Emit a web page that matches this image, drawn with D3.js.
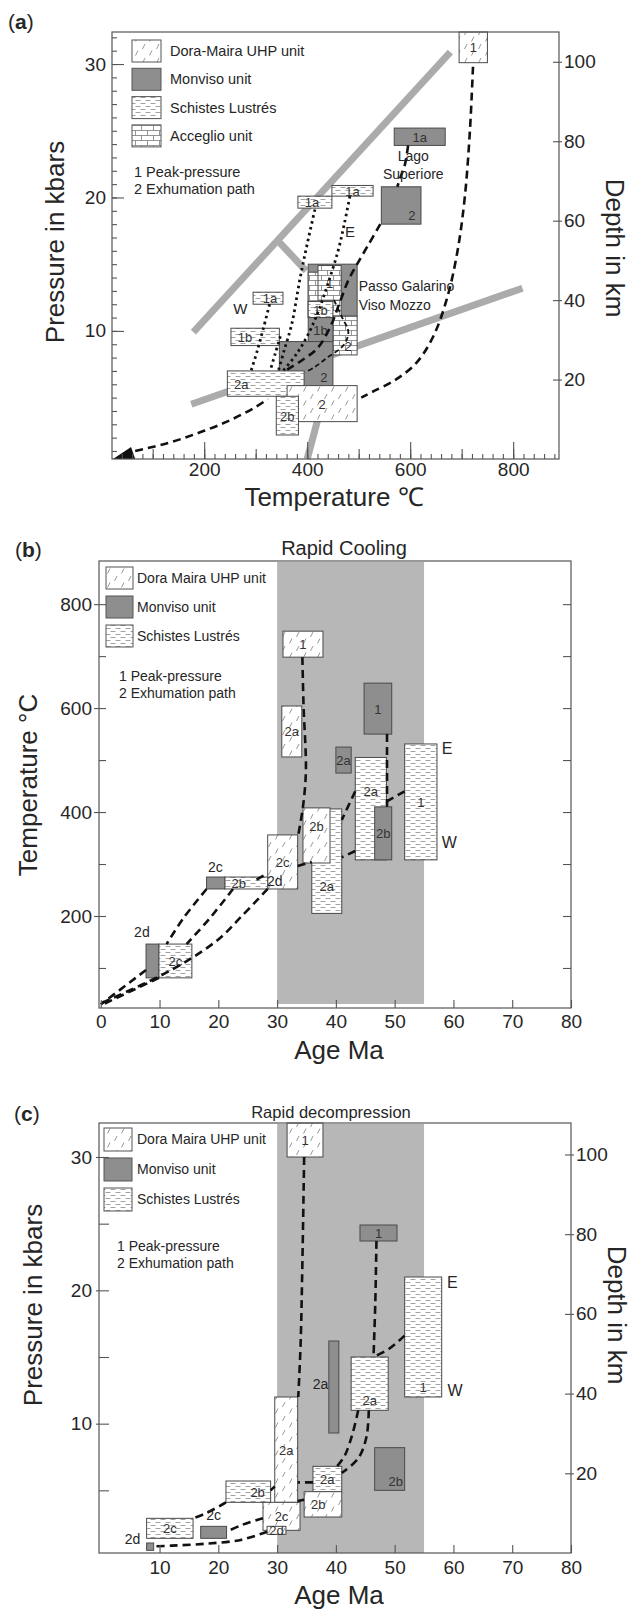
<!DOCTYPE html>
<html>
<head>
<meta charset="utf-8">
<script src="https://cdn.jsdelivr.net/npm/d3@7"></script>
<style>
  body { margin: 0; background: #fff; }
  svg { font-family: "Liberation Sans", Arial, Helvetica, sans-serif; }
</style>
</head>
<body>
<svg id="fig" width="637" height="1610"></svg>
<script>
// ---------- data ----------
const legendA = ['Dora-Maira UHP unit', 'Monviso unit', 'Schistes Lustrés', 'Acceglio unit'];
const legendBC = ['Dora Maira UHP unit', 'Monviso unit', 'Schistes Lustrés'];
const legendUnits = ['dora', 'monviso', 'schistes', 'acceglio'];
const notes = ['1 Peak-pressure', '2 Exhumation path'];

const tempTicksA = [200, 400, 600, 800];
const pressTicks = [10, 20, 30];
const depthTicks = [20, 40, 60, 80, 100];
const tempTicksB = [200, 400, 600, 800];
const ageTicksB = [0, 10, 20, 30, 40, 50, 60, 70, 80];
const ageTicksC = [10, 20, 30, 40, 50, 60, 70, 80];
const fastPeriod = [30, 55];   // Ma, grey band

// panel (a): temperature (°C) / pressure (kbar) boxes
const boxesA = [
  { u: 'monviso',  t: [402, 497], p: [11.1, 15.0], l: '' },
  { u: 'acceglio', t: [402, 466], p: [11.0, 14.4], l: '' },
  { u: 'schistes', t: [402, 450], p: [11.0, 12.2], l: '1b', at: 'c' },
  { u: 'acceglio', t: [421, 466], p: [12.3, 14.9], l: '1',  at: 'c' },
  { u: 'acceglio', t: [450, 497], p: [8.2, 11.1],  l: '2',  at: 'br' },
  { u: 'monviso',  t: [402, 450], p: [9.2, 11.0],  l: '1b', at: 'c' },
  { u: 'monviso',  t: [346, 450], p: [5.9, 9.2],   l: '2',  at: 'br' },
  { u: 'schistes', t: [245, 394], p: [5.1, 7.0],   l: '2a', at: 'l' },
  { u: 'dora',     t: [361, 497], p: [3.2, 5.9],   l: '2',  at: 'c' },
  { u: 'schistes', t: [340, 383], p: [2.2, 5.1],   l: '2b', at: 'c' },
  { u: 'schistes', t: [252, 346], p: [8.9, 10.2],  l: '1b', at: 'l' },
  { u: 'schistes', t: [295, 353], p: [12.0, 12.9], l: '1a', at: 'r' },
  { u: 'schistes', t: [382, 448], p: [19.2, 20.1], l: '1a', at: 'l' },
  { u: 'schistes', t: [448, 528], p: [20.1, 20.9], l: '1a', at: 'c' },
  { u: 'monviso',  t: [544, 621], p: [18.0, 20.8], l: '2',  at: 'br' },
  { u: 'monviso',  t: [569, 668], p: [23.9, 25.2], l: '1a', at: 'c' },
  { u: 'dora',     t: [695, 750], p: [30.1, 32.4], l: '1',  at: 'c' }
];
// reaction lines (T, P)
const reactionsA = [
  [[179, 9.9], [678, 30.9]],
  [[342, 16.8], [398, 14.5]],
  [[175, 4.5], [818, 13.2]],
  [[423, 3.7], [400, 0.4]]
];
const dashedA = [
  [[722, 29.8], [716, 25], [706, 20], [692, 16], [672, 12.5], [645, 9.6], [612, 7.6], [570, 6.3], [530, 5.5], [505, 5.0]],
  [[66, 1.0], [130, 1.6], [192, 2.4], [250, 3.3], [300, 4.3], [324, 4.9]],
  [[542, 18.0], [518, 16.4], [497, 15.0], [480, 13.8], [462, 12.0], [445, 10.3], [420, 8.7], [390, 7.8], [361, 7.1]],
  [[596, 23.9], [590, 22.5], [583, 21.7], [575, 20.8]]
];
const curveA = [[452, 12.3], [468, 11.0], [480, 9.9], [470, 8.9], [439, 8.0], [415, 7.3], [396, 6.9]];
const dottedA = [
  [[327, 12.0], [315, 10.2], [303, 8.5], [291, 7.0]],
  [[415, 19.1], [400, 16.5], [386, 13.9], [370, 10.5], [355, 8.5], [344, 7.0]],
  [[483, 20.1], [472, 18], [460, 16], [440, 13.5], [420, 11.3], [400, 9.6], [378, 8.2], [353, 7.0]],
  [[348, 9.6], [338, 8.3], [328, 7.0]]
];
const triangleA = [[23, 0.4], [66, 0.4], [58, 1.3]];
const textA = [
  ['W', 270, 11.3], ['E', 483, 17.0],
  ['Lago', 606, 22.7], ['Superiore', 606, 21.4],
  ['Passo Galarino', 500, 13.0], ['Viso Mozzo', 500, 11.6]
];

// panel (b): age (Ma) / temperature (°C)
const boxesB = [
  { u: 'dora',     a: [31.0, 37.8], t: [698, 748], l: '1',  at: 'c' },
  { u: 'dora',     a: [30.8, 34.2], t: [506, 604], l: '2a', at: 'c' },
  { u: 'monviso',  a: [44.8, 49.5], t: [550, 648], l: '1',  at: 'c' },
  { u: 'monviso',  a: [40.0, 42.6], t: [475, 525], l: '2a', at: 'c' },
  { u: 'schistes', a: [43.3, 48.6], t: [308, 505], l: '2a', at: 'u' },
  { u: 'monviso',  a: [46.6, 49.5], t: [308, 410], l: '2b', at: 'c' },
  { u: 'schistes', a: [51.7, 57.2], t: [308, 531], l: '1',  at: 'c' },
  { u: 'schistes', a: [35.9, 41.0], t: [205, 406], l: '2a', at: 'd' },
  { u: 'dora',     a: [34.4, 39.0], t: [302, 408], l: '2b', at: 'u' },
  { u: 'dora',     a: [28.4, 33.5], t: [252, 356], l: '2c', at: 'c' },
  { u: 'schistes', a: [21.1, 28.4], t: [252, 275], l: '2b', at: 'l' },
  { u: 'monviso',  a: [18.0, 21.1], t: [252, 275], l: '' },
  { u: 'monviso',  a: [7.7, 9.9],   t: [81, 146],  l: '' },
  { u: 'schistes', a: [9.9, 15.5],  t: [81, 146],  l: '2c', at: 'c' }
];
const pathsB = [
  [[34.3, 698], [34.5, 604], [34.9, 480], [34.4, 410], [33.6, 356]],
  [[28.4, 252], [24, 200], [19.9, 154], [12, 96], [0, 32]],
  [[22.5, 252], [18.5, 195], [14.6, 146]],
  [[18.0, 252], [14, 195], [11.2, 146]],
  [[7.7, 96], [0, 30]],
  [[9.9, 81], [0, 28]],
  [[26.5, 270], [28.4, 282]],
  [[33.5, 296], [35.9, 304]],
  [[43.3, 440], [41.0, 385]],
  [[43.3, 325], [41.0, 313]],
  [[48.7, 550], [48.7, 410]],
  [[51.7, 440], [48.6, 420]]
];
const textB = [['2c', 19.5, 285], ['2d', 7.0, 160], ['2d', 29.6, 258], ['E', 58.0, 511], ['W', 58.0, 330]];

// panel (c): age (Ma) / pressure (kbar)
const boxesC = [
  { u: 'dora',     a: [31.7, 37.8], p: [30.0, 32.55], l: '1',  at: 'c' },
  { u: 'monviso',  a: [44.1, 50.4], p: [23.7, 24.9],  l: '1',  at: 'c' },
  { u: 'schistes', a: [51.7, 58.0], p: [12.0, 21.0],  l: '1',  at: 'b' },
  { u: 'schistes', a: [42.6, 48.9], p: [11.0, 15.0],  l: '2a', at: 'b' },
  { u: 'monviso',  a: [38.8, 40.5], p: [9.3, 16.2],   l: '' },
  { u: 'monviso',  a: [46.6, 51.7], p: [5.0, 8.2],    l: '2b', at: 'br' },
  { u: 'dora',     a: [29.6, 33.5], p: [4.1, 12.0],   l: '2a', at: 'c' },
  { u: 'schistes', a: [36.1, 41.0], p: [4.9, 6.8],    l: '2a', at: 'c' },
  { u: 'dora',     a: [34.6, 41.0], p: [3.0, 4.9],    l: '2b', at: 'l' },
  { u: 'schistes', a: [21.3, 28.9], p: [4.1, 5.7],    l: '2b', at: 'r' },
  { u: 'dora',     a: [27.6, 33.9], p: [2.0, 4.1],    l: '2c', at: 'c' },
  { u: 'dora',     a: [28.3, 31.5], p: [1.7, 2.3],    l: '2d', at: 'c' },
  { u: 'monviso',  a: [17.0, 21.4], p: [1.4, 2.3],    l: '' },
  { u: 'schistes', a: [7.8, 15.7],  p: [1.4, 2.9],    l: '2c', at: 'c' },
  { u: 'monviso',  a: [7.8, 9.0],   p: [0.5, 1.05],   l: '' }
];
const pathsC = [
  [[34.6, 30.0], [34.3, 22], [34.0, 16], [33.6, 12.0]],
  [[46.9, 23.7], [46.7, 19], [46.4, 15.0]],
  [[51.7, 16.6], [49, 15.6], [46.4, 15.0]],
  [[43.8, 11.0], [42.8, 9.2], [41.5, 7.6], [40.2, 6.8]],
  [[45.6, 11.0], [45.2, 9.0], [43.8, 7.4], [41.0, 6.3]],
  [[36.1, 5.6], [33.5, 5.6]],
  [[34.6, 4.3], [33.5, 4.2]],
  [[28.9, 5.0], [29.6, 5.3]],
  [[21.3, 4.1], [18, 3.3], [15.7, 2.9]],
  [[27.6, 2.9], [24, 2.4], [21.4, 1.9]],
  [[28.3, 1.9], [24, 1.3], [18, 1.0], [12, 0.85], [9.0, 0.8]]
];
const textC = [['2a', 37.4, 12.6], ['2c', 19.2, 2.8], ['2d', 5.4, 1.0], ['E', 58.9, 20.2], ['W', 59.0, 12.1]];

// ---------- drawing ----------
const svg = d3.select('#fig');
const defs = svg.append('defs');

// fill patterns
const pDora = defs.append('pattern').attr('id', 'p-dora').attr('patternUnits', 'userSpaceOnUse')
  .attr('width', 14).attr('height', 14);
pDora.append('rect').attr('width', 14).attr('height', 14).attr('fill', '#fff');
pDora.append('path').attr('d', 'M2.5,7 L5,2 M9.5,13.5 L12,8.5')
  .attr('stroke', '#8c8c8c').attr('stroke-width', 0.9);

const pSch = defs.append('pattern').attr('id', 'p-sch').attr('patternUnits', 'userSpaceOnUse')
  .attr('width', 10).attr('height', 6);
pSch.append('rect').attr('width', 10).attr('height', 6).attr('fill', '#fff');
pSch.append('path').attr('d', 'M0.5,1.5 H5.5 M5.5,4.5 H10.5 M-4.5,4.5 H0.5')
  .attr('stroke', '#8a8a8a').attr('stroke-width', 0.8);

const pAcc = defs.append('pattern').attr('id', 'p-acc').attr('patternUnits', 'userSpaceOnUse')
  .attr('width', 12).attr('height', 10);
pAcc.append('rect').attr('width', 12).attr('height', 10).attr('fill', '#fff');
pAcc.append('path').attr('d', 'M0,0.5 H12 M0,5.5 H12 M3.5,0.5 V5.5 M9.5,5.5 V10.5')
  .attr('stroke', '#7a7a7a').attr('stroke-width', 0.8);

const fills = { dora: 'url(#p-dora)', monviso: '#8e8e8e', schistes: 'url(#p-sch)', acceglio: 'url(#p-acc)' };
const ink = '#262626';

function text(g, x, y, s, size, anchor) {
  return g.append('text').attr('x', x).attr('y', y).attr('font-size', size)
    .attr('text-anchor', anchor || 'start').attr('fill', ink).text(s);
}

function styleAxis(sel, size) {
  sel.attr('font-family', null).attr('font-size', null);
  sel.select('.domain').remove();
  sel.selectAll('line').attr('stroke', '#555').attr('stroke-width', 1.1);
  sel.selectAll('text').attr('font-size', size || 19).attr('fill', ink);
}

function drawBoxes(g, boxes, x, y, xKey, yKey) {
  boxes.forEach(b => {
    const x0 = x(b[xKey][0]), x1 = x(b[xKey][1]);
    const y0 = y(b[yKey][1]), y1 = y(b[yKey][0]);
    g.append('rect').attr('x', x0).attr('y', y0)
      .attr('width', x1 - x0).attr('height', y1 - y0)
      .attr('fill', fills[b.u]).attr('stroke', '#4a4a4a').attr('stroke-width', 1);
    if (!b.l) return;
    let lx = (x0 + x1) / 2, ly = (y0 + y1) / 2 + 5;
    if (b.at === 'l') lx = x0 + 14;
    if (b.at === 'r') lx = x1 - 13;
    if (b.at === 'br') { lx = x1 - 9; ly = y1 - 4; }
    if (b.at === 'b') ly = y1 - 5;
    if (b.at === 'u') ly = y0 + (y1 - y0) * 0.33 + 5;
    if (b.at === 'd') ly = y0 + (y1 - y0) * 0.74 + 5;
    text(g, lx, ly, b.l, 13, 'middle').attr('fill', '#333');
  });
}

function drawLines(g, list, x, y, dash, width, curve) {
  const line = d3.line().x(d => x(d[0])).y(d => y(d[1]))
    .curve(curve || d3.curveCatmullRom.alpha(0.5));
  list.forEach(pts => {
    g.append('path').attr('d', line(pts)).attr('fill', 'none')
      .attr('stroke', '#111').attr('stroke-width', width).attr('stroke-dasharray', dash);
  });
}

function drawLegend(g, names, x, y0, w, h, step, tx, nx, ny, size) {
  names.forEach((n, i) => {
    g.append('rect').attr('x', x).attr('y', y0 + i * step).attr('width', w).attr('height', h)
      .attr('fill', fills[legendUnits[i]]).attr('stroke', '#555').attr('stroke-width', 1);
    text(g, tx, y0 + i * step + 16, n, size);
  });
  notes.forEach((n, i) => text(g, nx, ny + i * 17, n, size));
}

function frame(g, x, y) {
  g.append('rect').attr('x', x.range()[0]).attr('y', y.range()[1])
    .attr('width', x.range()[1] - x.range()[0]).attr('height', y.range()[0] - y.range()[1])
    .attr('fill', 'none').attr('stroke', '#555').attr('stroke-width', 1.2);
}

function panelTag(x, y, letter) {
  const t = svg.append('text').attr('x', x).attr('y', y).attr('font-size', 21).attr('fill', ink);
  t.append('tspan').text('(');
  t.append('tspan').attr('font-weight', 'bold').text(letter);
  t.append('tspan').text(')');
}

function rotLabel(g, x, y, s, angle) {
  g.append('text').attr('transform', `translate(${x},${y}) rotate(${angle})`)
    .attr('text-anchor', 'middle').attr('font-size', 26).attr('fill', ink).text(s);
}

// ===== panel (a) =====
const xA = d3.scaleLinear().domain([21, 889]).range([112, 559]);
const yA = d3.scaleLinear().domain([0.4, 32.4]).range([459, 32]);
const dA = d3.scaleLinear().domain([0, 107.5]).range([459, 32]);
const gA = svg.append('g');

reactionsA.forEach(r => {
  gA.append('line').attr('x1', xA(r[0][0])).attr('y1', yA(r[0][1]))
    .attr('x2', xA(r[1][0])).attr('y2', yA(r[1][1]))
    .attr('stroke', '#ababab').attr('stroke-width', 7);
});
drawBoxes(gA, boxesA, xA, yA, 't', 'p');
drawLines(gA, dashedA, xA, yA, '8,5', 2.6);
drawLines(gA, [curveA], xA, yA, '5,3', 1.8);
drawLines(gA, dottedA, xA, yA, '2.5,3.5', 2.8);
gA.append('path').attr('d', d3.line().x(d => xA(d[0])).y(d => yA(d[1]))(triangleA) + 'Z').attr('fill', '#111');

textA.forEach(([s, t, p]) => {
  const size = s.length === 1 ? 15 : 14;
  text(gA, xA(t), yA(p), s, size, s.length === 1 ? 'middle' : (s.startsWith('Lago') || s.startsWith('Sup') ? 'middle' : 'start'));
});

// axes (a)
[[d3.range(40, 890, 20), -5], [d3.range(100, 890, 100), -10]].forEach(([vals, len]) => {
  gA.append('g').attr('transform', `translate(0,${yA.range()[0]})`)
    .call(d3.axisBottom(xA).tickValues(vals).tickSize(len).tickFormat(''))
    .call(styleAxis);
});
gA.append('g').attr('transform', `translate(0,${yA.range()[0]})`)
  .call(d3.axisBottom(xA).tickValues(tempTicksA).tickSize(-17).tickPadding(4))
  .call(styleAxis);
gA.append('g').attr('transform', `translate(${xA.range()[0]},0)`)
  .call(d3.axisLeft(yA).tickValues(d3.range(1, 33)).tickSize(-5).tickFormat(''))
  .call(styleAxis);
gA.append('g').attr('transform', `translate(${xA.range()[0]},0)`)
  .call(d3.axisLeft(yA).tickValues(pressTicks).tickSize(-12).tickPadding(6))
  .call(styleAxis);
gA.append('g').attr('transform', `translate(${xA.range()[1]},0)`)
  .call(d3.axisRight(dA).tickValues(depthTicks).tickSize(-6).tickFormat(''))
  .call(styleAxis);
gA.append('g').attr('transform', `translate(${xA.range()[1]},0)`)
  .call(d3.axisRight(dA).tickValues(depthTicks).tickSize(3).tickPadding(2))
  .call(styleAxis);
frame(gA, xA, yA);
drawLegend(gA, legendA, 132, 40, 29, 22, 28.3, 170, 134, 177, 14.5);
rotLabel(gA, 64, 242, 'Pressure in kbars', -90);
rotLabel(gA, 606, 248, 'Depth in km', 90);
text(gA, 334, 506, 'Temperature  ℃', 26, 'middle');
panelTag(8, 29, 'a');

// ===== panel (b) =====
const xB = d3.scaleLinear().domain([-0.3, 80]).range([99, 571]);
const yB = d3.scaleLinear().domain([23, 883]).range([1008, 561]);
const gB = svg.append('g');

gB.append('rect').attr('x', xB(fastPeriod[0])).attr('y', yB.range()[1] + 1)
  .attr('width', xB(fastPeriod[1]) - xB(fastPeriod[0]))
  .attr('height', yB.range()[0] - yB.range()[1] - 5)
  .attr('fill', '#b7b7b7');
drawBoxes(gB, boxesB, xB, yB, 'a', 't');
drawLines(gB, pathsB, xB, yB, '8,5', 2.6);
textB.forEach(([s, a, t]) => {
  const one = s.length === 1;
  text(gB, xB(a), yB(t), s, one ? 16 : 14, one ? 'start' : 'middle');
});

gB.append('g').attr('transform', `translate(0,${yB.range()[0]})`)
  .call(d3.axisBottom(xB).tickValues(ageTicksB).tickSize(-8).tickPadding(7))
  .call(styleAxis);
gB.append('g').attr('transform', `translate(${xB.range()[0]},0)`)
  .call(d3.axisLeft(yB).tickValues(d3.range(100, 801, 100)).tickSize(-7).tickFormat(''))
  .call(styleAxis);
gB.append('g').attr('transform', `translate(${xB.range()[0]},0)`)
  .call(d3.axisLeft(yB).tickValues(tempTicksB).tickSize(5).tickPadding(2))
  .call(styleAxis);
gB.append('g').attr('transform', `translate(${xB.range()[1]},0)`)
  .call(d3.axisRight(yB).tickValues(d3.range(100, 801, 100)).tickSize(-8).tickFormat(''))
  .call(styleAxis);
frame(gB, xB, yB);
drawLegend(gB, legendBC, 106, 567, 27, 22, 29, 137, 119, 681, 14);
text(gB, 344, 555, 'Rapid Cooling', 20, 'middle');
rotLabel(gB, 37, 785, 'Temperature °C', -90);
text(gB, 339, 1059, 'Age  Ma', 26, 'middle');
panelTag(15, 557, 'b');

// ===== panel (c) =====
const xC = d3.scaleLinear().domain([-0.3, 80]).range([99, 571]);
const yC = d3.scaleLinear().domain([0.3, 32.55]).range([1553, 1123]);
const dC = d3.scaleLinear().domain([0, 107.9]).range([1553, 1123]);
const gC = svg.append('g');

gC.append('rect').attr('x', xC(fastPeriod[0])).attr('y', yC.range()[1] + 1)
  .attr('width', xC(fastPeriod[1]) - xC(fastPeriod[0]))
  .attr('height', yC.range()[0] - yC.range()[1] - 1)
  .attr('fill', '#b7b7b7');
drawBoxes(gC, boxesC, xC, yC, 'a', 'p');
drawLines(gC, pathsC, xC, yC, '8,5', 2.6);
textC.forEach(([s, a, p]) => {
  const one = s.length === 1;
  text(gC, xC(a), yC(p), s, one ? 16 : 14, one ? 'start' : 'middle');
});

gC.append('g').attr('transform', `translate(0,${yC.range()[0]})`)
  .call(d3.axisBottom(xC).tickValues(ageTicksC).tickSize(-8).tickPadding(8))
  .call(styleAxis);
gC.append('g').attr('transform', `translate(${xC.range()[0]},0)`)
  .call(d3.axisLeft(yC).tickValues(d3.range(5, 31, 5)).tickSize(-10).tickFormat(''))
  .call(styleAxis);
gC.append('g').attr('transform', `translate(${xC.range()[0]},0)`)
  .call(d3.axisLeft(yC).tickValues(pressTicks).tickSize(3).tickPadding(4))
  .call(styleAxis);
gC.append('g').attr('transform', `translate(${xC.range()[1]},0)`)
  .call(d3.axisRight(dC).tickValues(depthTicks).tickSize(-6).tickFormat(''))
  .call(styleAxis);
gC.append('g').attr('transform', `translate(${xC.range()[1]},0)`)
  .call(d3.axisRight(dC).tickValues(depthTicks).tickSize(3).tickPadding(2))
  .call(styleAxis);
frame(gC, xC, yC);
drawLegend(gC, legendBC, 104, 1128, 28, 23, 30, 137, 117, 1251, 14);
text(gC, 331, 1118, 'Rapid decompression', 16.5, 'middle');
rotLabel(gC, 42, 1305, 'Pressure in kbars', -90);
rotLabel(gC, 608, 1315, 'Depth in km', 90);
text(gC, 339, 1604, 'Age  Ma', 26, 'middle');
panelTag(14, 1121, 'c');
</script>
</body>
</html>
